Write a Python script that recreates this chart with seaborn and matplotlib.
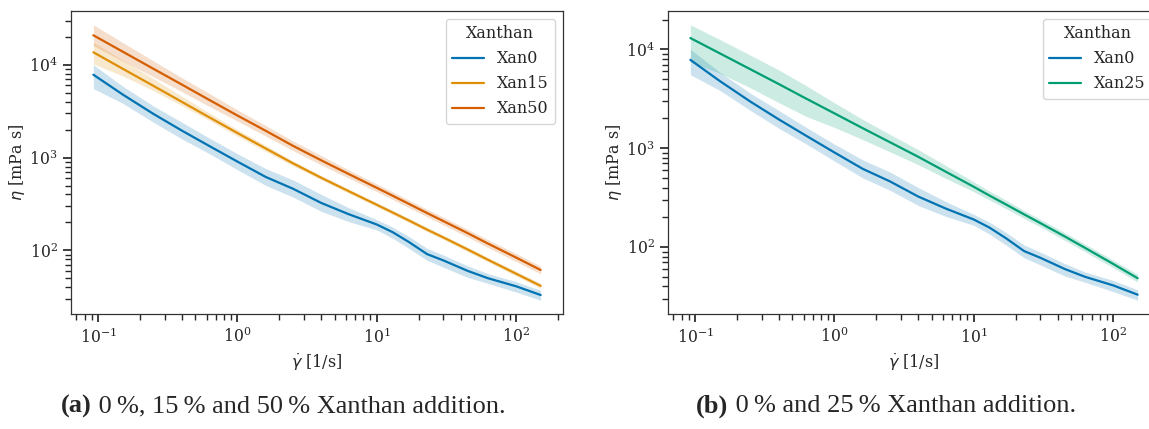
import numpy as np
import pandas as pd
import matplotlib
matplotlib.use("Agg")
import matplotlib.pyplot as plt
import seaborn as sns

# ---- data ----
shear_rate = [0.0925, 0.15, 0.25, 0.4, 0.63, 1.0, 1.6, 2.5, 4.0, 6.3,
              10, 13, 17, 23, 30, 45, 63, 100, 150]

xan0_mean = [7820, 4790, 2950, 1950, 1330, 905, 617, 462, 324, 245,
             190, 157, 123, 91, 78, 60, 50, 41, 33]
xan0_low = [5530, 3850, 2400, 1585, 1100, 740, 500, 376, 263, 204,
            166, 135, 105, 78, 66, 51, 44, 35.5, 29]
xan0_high = [10000, 5890, 3590, 2400, 1620, 1100, 760, 575, 400, 288,
             214, 178, 141, 105, 89, 68, 56, 46, 37]

xan15_mean = [13650, 9080, 5920, 3980, 2710, 1840, 1250, 869, 605, 434,
              310, 256, 210, 167, 138, 102, 79, 56, 41.4]
xan15_low = [10200, 7600, 5250, 3630, 2510, 1700, 1160, 815, 575, 412,
             295, 243, 200, 159, 131, 96.4, 74.8, 52.8, 38.9]
xan15_high = [17500, 11200, 7080, 4570, 3020, 2000, 1350, 920, 640, 457,
              327, 269, 221, 177, 145, 108, 83.6, 59.6, 44.2]

xan50_mean = [20800, 13870, 9040, 6110, 4170, 2840, 1940, 1340, 933, 664,
              472, 388, 317, 252, 207, 153, 118, 83.6, 61.4]
xan50_low = [16100, 11000, 7410, 5130, 3550, 2480, 1700, 1190, 832, 600,
             429, 353, 288, 230, 188, 139, 107, 75.7, 55.7]
xan50_high = [27000, 17400, 11000, 7240, 4900, 3270, 2210, 1510, 1050, 735,
              520, 427, 348, 277, 228, 168, 130, 92.3, 67.6]

xan25_mean = [13000, 9120, 6270, 4440, 3160, 2250, 1590, 1150, 817, 578,
              407, 331, 270, 214, 175, 128, 98, 67.6, 48.4]
xan25_low = [7410, 5750, 4070, 2880, 2090, 1620, 1220, 920, 680, 495,
             363, 299, 245, 195, 160, 117, 89.5, 61.9, 44.2]
xan25_high = [17700, 12600, 8710, 6170, 4270, 2880, 1950, 1380, 966, 668,
              457, 367, 299, 234, 191, 140, 107, 73.8, 53.1]

series = {
    "Xan0": (xan0_mean, xan0_low, xan0_high),
    "Xan15": (xan15_mean, xan15_low, xan15_high),
    "Xan25": (xan25_mean, xan25_low, xan25_high),
    "Xan50": (xan50_mean, xan50_low, xan50_high),
}
panel_a = ["Xan0", "Xan15", "Xan50"]
panel_b = ["Xan0", "Xan25"]

x_label = r"$\dot{\gamma}$ [1/s]"
y_label = r"$\eta$ [mPa s]"
legend_title = "Xanthan"
caption_a = ("(a)", " 0\u2009%, 15\u2009% and 50\u2009% Xanthan addition.")
caption_b = ("(b)", " 0\u2009% and 25\u2009% Xanthan addition.")

# ---- style ----
sns.set_theme(style="ticks", palette="colorblind")
plt.rcParams["font.family"] = ["DejaVu Serif"]
plt.rcParams["mathtext.fontset"] = "dejavusans"
cb = sns.color_palette("colorblind")
palette = {"Xan0": cb[0], "Xan15": cb[1], "Xan25": cb[2], "Xan50": cb[3]}

fig = plt.figure(figsize=(11.49, 4.29), dpi=100)
W, H = 1149, 429
ax_w = 492 / W
ax_h = 303 / H
ax_b = 1 - 314 / H
ax1 = fig.add_axes([71 / W, ax_b, ax_w, ax_h])
ax2 = fig.add_axes([668 / W, ax_b, ax_w, ax_h])


def draw(ax, names):
    rows = []
    for n in names:
        m = series[n][0]
        for xv, yv in zip(shear_rate, m):
            rows.append({"rate": xv, "eta": yv, "Xanthan": n})
    df = pd.DataFrame(rows)
    for n in names:
        _, lo, hi = series[n]
        ax.fill_between(shear_rate, lo, hi, color=palette[n], alpha=0.2, lw=0)
    sns.lineplot(data=df, x="rate", y="eta", hue="Xanthan", hue_order=names,
                 palette=palette, errorbar=None, ax=ax, linewidth=1.6)
    ax.set_xscale("log")
    ax.set_yscale("log")
    ax.set_xlabel(x_label, fontsize=11.5)
    ax.set_ylabel(y_label, fontsize=11.5)
    ax.yaxis.set_label_coords(-0.089, 0.5)
    ax.tick_params(labelsize=11.3)
    for s in ax.spines.values():
        s.set_color("#333333")
        s.set_linewidth(0.9)
    leg = ax.legend(title=legend_title, loc="upper right", fontsize=11.5,
                    title_fontsize=11.5, frameon=True)
    leg.get_frame().set_edgecolor("#cccccc")


draw(ax1, panel_a)
draw(ax2, panel_b)

cap_fam = ["Liberation Serif", "DejaVu Serif"]
for (lab, rest), cx in [(caption_a, 283), (caption_b, 886)]:
    t1 = fig.text(0, 0, lab, fontsize=19, fontweight="bold", family=cap_fam)
    t2 = fig.text(0, 0, rest, fontsize=19, family=cap_fam)
    fig.canvas.draw()
    r = fig.canvas.get_renderer()
    w1 = t1.get_window_extent(r).width
    w2 = t2.get_window_extent(r).width
    x0 = cx - (w1 + w2) / 2
    yb = 1 - 406 / H
    t1.set_position((x0 / W, yb))
    t2.set_position(((x0 + w1) / W, yb))
    t1.set_va("center")
    t2.set_va("center")

fig.savefig("out.png", dpi=100)
